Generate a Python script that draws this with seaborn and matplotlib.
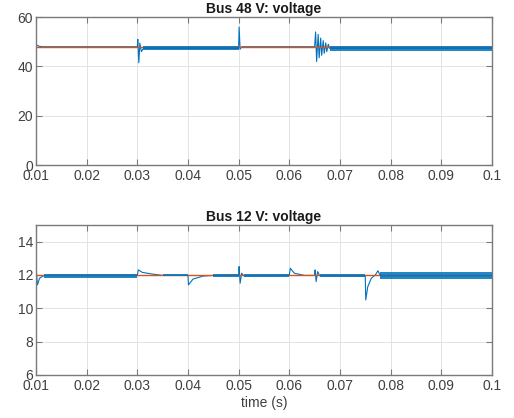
import numpy as np
import pandas as pd
import matplotlib
matplotlib.use('Agg')
import matplotlib.pyplot as plt
import seaborn as sns

# Bus 48 V waveform: breakpoints (time in s, volts)
t48 = [0.0100, 0.0102, 0.0106, 0.0112, 0.0300, 0.0301, 0.0303, 0.0305, 0.0308,
       0.0312, 0.0500, 0.0501, 0.0503, 0.0506, 0.0650, 0.0652, 0.0654, 0.0657,
       0.0659, 0.0662, 0.0664, 0.0667, 0.0669, 0.0672, 0.0674, 0.0677, 0.0680,
       0.1000]
v48 = [48.0, 48.6, 48.2, 48.0, 48.0, 51.0, 41.5, 49.5, 46.0,
       47.3, 47.3, 56.0, 47.0, 48.0, 48.0, 54.0, 42.0, 53.0,
       43.5, 51.5, 44.5, 50.5, 45.3, 49.6, 46.0, 49.0, 47.3,
       47.3]
# ripple bands (start, end, low, high)
rip48_start = [0.0312, 0.0680]
rip48_end = [0.0500, 0.1000]
rip48_lo = [46.5, 46.4]
rip48_hi = [48.1, 48.1]
ref48 = 48.0

# Bus 12 V waveform
t12 = [0.0100, 0.01005, 0.0103, 0.0107, 0.0115, 0.0130, 0.0300, 0.0302, 0.0310,
       0.0330, 0.0350, 0.0400, 0.0401, 0.0410, 0.0430, 0.0450, 0.0500, 0.0501,
       0.0503, 0.0506, 0.0510, 0.0600, 0.0602, 0.0610, 0.0630, 0.0650, 0.0651,
       0.0653, 0.0656, 0.0660, 0.0750, 0.0751, 0.0755, 0.0762, 0.0770, 0.0775,
       0.0780, 0.1000]
v12 = [12.9, 12.3, 11.4, 11.8, 11.95, 11.97, 11.97, 12.3, 12.15,
       12.05, 11.97, 11.97, 11.4, 11.75, 11.93, 11.97, 11.97, 12.5,
       11.5, 12.1, 11.95, 11.97, 12.4, 12.1, 11.97, 11.97, 12.3,
       11.6, 12.2, 11.95, 11.95, 10.5, 11.3, 11.8, 12.0, 12.25,
       11.95, 11.95]
rip12_start = [0.0115, 0.0350, 0.0450, 0.0510, 0.0660, 0.0780]
rip12_end = [0.0300, 0.0400, 0.0500, 0.0600, 0.0750, 0.1000]
rip12_lo = [11.82, 11.92, 11.85, 11.85, 11.88, 11.75]
rip12_hi = [12.08, 12.03, 12.08, 12.08, 12.05, 12.15]
ref12 = 12.0

xticks = [0.01, 0.02, 0.03, 0.04, 0.05, 0.06, 0.07, 0.08, 0.09, 0.1]
xticklabels = ['0.01', '0.02', '0.03', '0.04', '0.05', '0.06', '0.07', '0.08', '0.09', '0.1']

blue = '#0072BD'
orange = '#D95319'

sns.set_theme(style='whitegrid')
plt.rcParams['font.family'] = ['Liberation Sans', 'DejaVu Sans']

fig = plt.figure(figsize=(5.14, 4.18), dpi=100)
ax1 = fig.add_axes([0.070, 0.605, 0.887, 0.354])
ax2 = fig.add_axes([0.070, 0.103, 0.887, 0.359])


def draw(ax, t, v, rs, re, rlo, rhi, ref, ylim, yticks, title):
    df = pd.DataFrame({'t': t, 'v': v})
    sns.lineplot(data=df, x='t', y='v', ax=ax, color=blue, lw=0.8,
                 estimator=None, sort=False)
    ref_t = [xticks[0], xticks[-1]]
    ax.plot(ref_t, [ref, ref], color=orange, lw=1.0, zorder=4)
    for a, b, lo, hi in zip(rs, re, rlo, rhi):
        ax.fill_between([a, b], [lo, lo], [hi, hi], color=blue, alpha=0.85,
                        lw=0, zorder=4.5)
    ax.set_xlim(0.01, 0.1)
    ax.set_ylim(*ylim)
    ax.set_xticks(xticks)
    ax.set_xticklabels(xticklabels)
    ax.set_yticks(yticks)
    ax.set_xlabel('')
    ax.set_ylabel('')
    ax.set_title(title, fontsize=10, fontweight='bold', pad=3, color='#1a1a1a')
    ax.set_facecolor('white')
    ax.grid(True, color='#e3e3e3', lw=0.7)
    ax.set_axisbelow(True)
    for s in ax.spines.values():
        s.set_visible(True)
        s.set_color('#7a7a7a')
        s.set_linewidth(1.0)
        s.set_zorder(5)
    ax.tick_params(direction='in', length=4, width=0.8, color='#7a7a7a',
                   labelsize=10, labelcolor='#404040', top=True, right=True,
                   bottom=True, left=True, pad=2)
    ax.tick_params(axis='x', pad=3)


draw(ax1, t48, v48, rip48_start, rip48_end, rip48_lo, rip48_hi, ref48,
     (0, 60), [0, 20, 40, 60], 'Bus 48 V: voltage')
draw(ax2, t12, v12, rip12_start, rip12_end, rip12_lo, rip12_hi, ref12,
     (6, 15), [6, 8, 10, 12, 14], 'Bus 12 V: voltage')
ax2.set_xlabel('time (s)', fontsize=10, color='#404040', labelpad=2)

fig.savefig('out.png', dpi=100, facecolor='white')
